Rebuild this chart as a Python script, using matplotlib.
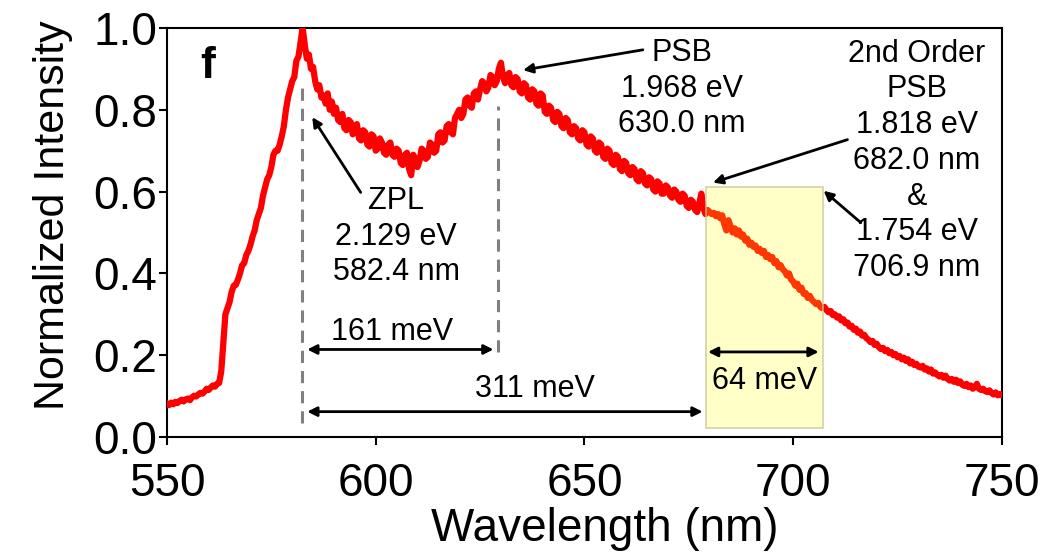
import matplotlib
matplotlib.use("Agg")
import matplotlib.pyplot as plt
import numpy as np
from matplotlib.patches import Rectangle

plt.rcParams['font.family'] = ['Liberation Sans', 'DejaVu Sans']

# ---- data, 0.5 nm sampling ----
intensity = [
    0.082, 0.078, 0.084, 0.080, 0.086, 0.083, 0.088, 0.091, 0.087, 0.092,  # 550
    0.094, 0.090, 0.097, 0.101, 0.099, 0.104, 0.108, 0.106, 0.111, 0.118,  # 555
    0.115, 0.121, 0.126, 0.123, 0.130, 0.132, 0.160, 0.230, 0.300, 0.315,  # 560
    0.330, 0.355, 0.370, 0.372, 0.385, 0.400, 0.420, 0.425, 0.445, 0.455,  # 565
    0.470, 0.490, 0.505, 0.530, 0.545, 0.560, 0.590, 0.610, 0.630, 0.640,  # 570
    0.660, 0.690, 0.700, 0.700, 0.715, 0.735, 0.760, 0.800, 0.830, 0.850,  # 575
    0.870, 0.880, 0.920, 0.930, 0.965, 1.000, 0.960, 0.925, 0.935, 0.900,  # 580
    0.905, 0.870, 0.850, 0.860, 0.830, 0.835, 0.815, 0.840, 0.800, 0.820,  # 585
    0.790, 0.805, 0.775, 0.770, 0.790, 0.755, 0.750, 0.775, 0.770, 0.740,  # 590
    0.760, 0.765, 0.730, 0.725, 0.750, 0.745, 0.715, 0.710, 0.740, 0.735,  # 595
    0.700, 0.705, 0.730, 0.720, 0.695, 0.690, 0.715, 0.720, 0.690, 0.685,  # 600
    0.705, 0.700, 0.670, 0.665, 0.690, 0.695, 0.655, 0.640, 0.690, 0.680,  # 605
    0.660, 0.675, 0.705, 0.700, 0.680, 0.685, 0.720, 0.715, 0.695, 0.700,  # 610
    0.740, 0.745, 0.720, 0.725, 0.760, 0.765, 0.745, 0.740, 0.780, 0.790,  # 615
    0.800, 0.780, 0.790, 0.825, 0.830, 0.810, 0.805, 0.840, 0.845, 0.825,  # 620
    0.850, 0.870, 0.865, 0.845, 0.855, 0.885, 0.880, 0.860, 0.870, 0.900,  # 625
    0.915, 0.880, 0.865, 0.885, 0.890, 0.860, 0.855, 0.880, 0.875, 0.845,  # 630
    0.840, 0.865, 0.860, 0.830, 0.825, 0.850, 0.845, 0.815, 0.810, 0.840,  # 635
    0.835, 0.795, 0.790, 0.810, 0.805, 0.775, 0.770, 0.795, 0.790, 0.760,  # 640
    0.755, 0.780, 0.775, 0.745, 0.740, 0.760, 0.755, 0.730, 0.725, 0.750,  # 645
    0.745, 0.715, 0.710, 0.735, 0.730, 0.700, 0.695, 0.720, 0.715, 0.685,  # 650
    0.680, 0.705, 0.700, 0.670, 0.665, 0.690, 0.685, 0.655, 0.650, 0.675,  # 655
    0.670, 0.645, 0.640, 0.660, 0.655, 0.630, 0.625, 0.650, 0.645, 0.620,  # 660
    0.615, 0.635, 0.630, 0.605, 0.600, 0.625, 0.620, 0.595, 0.595, 0.615,  # 665
    0.610, 0.590, 0.585, 0.605, 0.600, 0.580, 0.575, 0.595, 0.590, 0.565,  # 670
    0.560, 0.580, 0.575, 0.555, 0.550, 0.570, 0.595, 0.560, 0.545, 0.555,  # 675
    0.550, 0.545, 0.548, 0.540, 0.545, 0.535, 0.542, 0.520, 0.505, 0.530,  # 680
    0.515, 0.500, 0.510, 0.495, 0.505, 0.490, 0.495, 0.480, 0.485, 0.470,  # 685
    0.475, 0.465, 0.468, 0.455, 0.460, 0.450, 0.455, 0.440, 0.445, 0.435,  # 690
    0.440, 0.425, 0.430, 0.415, 0.420, 0.410, 0.405, 0.395, 0.400, 0.385,  # 695
    0.380, 0.370, 0.375, 0.360, 0.365, 0.350, 0.352, 0.340, 0.345, 0.335,  # 700
    0.330, 0.325, 0.328, 0.318, 0.315, 0.318, 0.310, 0.305, 0.308, 0.298,  # 705
    0.300, 0.292, 0.295, 0.285, 0.288, 0.278, 0.280, 0.270, 0.272, 0.262,  # 710
    0.265, 0.255, 0.258, 0.248, 0.250, 0.242, 0.238, 0.232, 0.235, 0.225,  # 715
    0.228, 0.220, 0.215, 0.218, 0.210, 0.213, 0.205, 0.208, 0.200, 0.203,  # 720
    0.195, 0.198, 0.190, 0.194, 0.186, 0.190, 0.180, 0.184, 0.176, 0.179,  # 725
    0.172, 0.170, 0.174, 0.165, 0.168, 0.160, 0.165, 0.155, 0.158, 0.152,  # 730
    0.148, 0.152, 0.145, 0.150, 0.142, 0.138, 0.142, 0.135, 0.140, 0.132,  # 735
    0.136, 0.128, 0.125, 0.130, 0.122, 0.126, 0.118, 0.122, 0.130, 0.118,  # 740
    0.115, 0.118, 0.112, 0.110, 0.114, 0.108, 0.104, 0.109, 0.102, 0.105,  # 745
    0.103,                                                                 # 750
]
wavelength = np.arange(550.0, 750.25, 0.5)[:len(intensity)]

x_ticks = [550, 600, 650, 700, 750]
y_ticks = [0.0, 0.2, 0.4, 0.6, 0.8, 1.0]
x_label = "Wavelength (nm)"
y_label = "Normalized Intensity"

zpl_nm, psb_nm = 582.4, 629.3
box_nm = (679.0, 707.1)

zpl_text = "ZPL\n2.129 eV\n582.4 nm"
psb_text = "PSB\n1.968 eV\n630.0 nm"
psb2_text = "2nd Order\nPSB\n1.818 eV\n682.0 nm\n&\n1.754 eV\n706.9 nm"

# ---- figure ----
fig = plt.figure(figsize=(10.52, 5.55), dpi=100)
ax = fig.add_axes([0.1587, 0.2126, 0.7937, 0.737])

ax.plot(wavelength, intensity, color='#ff0000', lw=4.5, zorder=3)

# highlighted box (drawn over the curve, translucent)
ax.add_patch(Rectangle((box_nm[0], 0.023), box_nm[1] - box_nm[0], 0.588,
                       facecolor=(1.0, 1.0, 0.0, 0.22), edgecolor=(0.78, 0.78, 0.6, 0.8),
                       lw=1.2, zorder=4))

# dashed guide lines
dash = dict(color='#808080', lw=2.2, dashes=(4, 2.6), zorder=2)
ax.plot([zpl_nm, zpl_nm], [0.034, 0.857], **dash)
ax.plot([psb_nm, psb_nm], [0.207, 0.81], **dash)

# double arrows
def darrow(x0, x1, y):
    ax.annotate('', xy=(x1, y), xytext=(x0, y),
                arrowprops=dict(arrowstyle='<|-|>', color='black', lw=2.0,
                                mutation_scale=14, shrinkA=0, shrinkB=0), zorder=5)

darrow(583.6, 628.2, 0.214)
darrow(583.6, 678.3, 0.062)
darrow(679.6, 706.1, 0.208)

fs = 22
ax.text(604.0, 0.256, "161 meV", fontsize=fs, ha='center', va='center', zorder=6)
ax.text(638.2, 0.118, "311 meV", fontsize=fs, ha='center', va='center', zorder=6)
ax.text(693.1, 0.138, "64 meV", fontsize=fs, ha='center', va='center', zorder=6)

# single arrows
def sarrow(tail, tip):
    ax.annotate('', xy=tip, xytext=tail,
                arrowprops=dict(arrowstyle='-|>', color='black', lw=2.0,
                                mutation_scale=14, shrinkA=0, shrinkB=0), zorder=5)

sarrow((596.4, 0.598), (584.8, 0.782))
sarrow((664.0, 0.9466), (635.3, 0.897))
sarrow((713.0, 0.727), (680.8, 0.622))
sarrow((716.2, 0.524), (707.3, 0.602))

ax.text(604.9, 0.49, zpl_text, fontsize=fs, ha='center', va='center',
        linespacing=1.25, zorder=6)
ax.text(673.3, 0.852, psb_text, fontsize=fs, ha='center', va='center',
        linespacing=1.25, zorder=6)
ax.text(729.6, 0.675, psb2_text, fontsize=fs, ha='center', va='center',
        linespacing=1.25, zorder=6)

ax.text(559.8, 0.906, "f", fontsize=32, fontweight='bold', ha='center', va='center')

ax.set_xlim(550, 750)
ax.set_ylim(0, 1.0)
ax.set_xticks(x_ticks)
ax.set_yticks(y_ticks)
ax.set_xticklabels([str(v) for v in x_ticks])
ax.set_yticklabels([f"{v:.1f}" for v in y_ticks])
ax.tick_params(axis='both', direction='out', length=6, width=1.5, labelsize=33)
ax.tick_params(axis='y', pad=1)
ax.tick_params(axis='x', pad=12)
for s in ax.spines.values():
    s.set_linewidth(1.5)

ax.set_xlabel(x_label, fontsize=33)
ax.xaxis.set_label_coords(0.524, -0.172)
ax.set_ylabel(y_label, fontsize=31)
ax.yaxis.set_label_coords(-0.1123, 0.542)

fig.savefig("out.png", dpi=100)
